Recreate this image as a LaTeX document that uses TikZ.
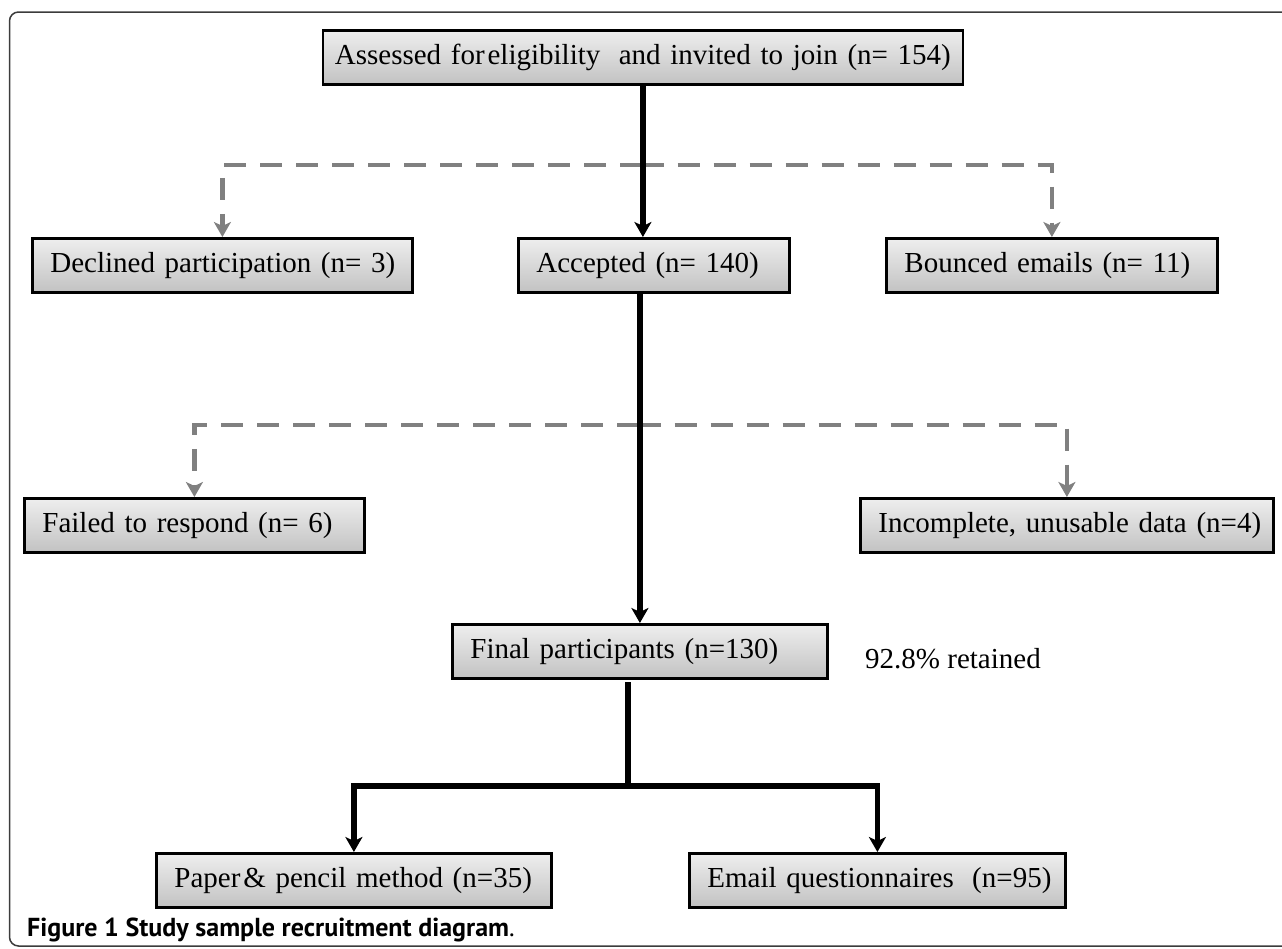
\documentclass[tikz,border=0pt]{standalone}
\usepackage{fontspec}
\setmainfont{Liberation Serif}
\newfontfamily\capfont{PT Sans}
\usetikzlibrary{arrows.meta}
\definecolor{boxtop}{RGB}{238,238,238}
\definecolor{boxbot}{RGB}{194,194,194}
\definecolor{dgray}{RGB}{128,128,128}
\definecolor{framec}{RGB}{60,60,60}
\begin{document}
\begin{tikzpicture}[x=1pt,y=-1pt,
  box/.style={draw=black, line width=2.8pt, top color=boxtop, bottom color=boxbot,
    minimum height=54pt, inner xsep=18pt, inner ysep=0pt, align=left,
    font=\fontsize{29}{34}\selectfont, anchor=north west},
  blk/.style={line width=5.5pt, draw=black},
  blkarr/.style={blk, -{Stealth[length=15pt,width=17pt,inset=4pt]}},
  gdash/.style={line width=4.8pt, draw=dgray, dash pattern=on 22pt off 14pt},
  garr/.style={gdash, -{Stealth[length=15pt,width=17pt,inset=4pt]}},
  plain/.style={font=\fontsize{29}{34}\selectfont, inner sep=0pt}]
\useasboundingbox (0,0) rectangle (1282,948);
% frame
\draw[line width=1.5pt, draw=framec, rounded corners=9pt] (1300,12) -- (9.5,12) -- (9.5,946) -- (1300,946);
% boxes
\node[box, inner xsep=12pt, text width=616pt] (top) at (321.5,29) {\mbox{Assessed for\hspace{0.1em}eligibility\hspace{0.3em} and invited to join (n= 154)}};
\node[box, text width=344pt] (decl) at (31,237) {\mbox{Declined participation (n= 3)}};
\node[box, text width=235pt] (acc) at (517,237) {\mbox{Accepted (n= 140)}};
\node[box, text width=295pt] (bounce) at (885,237) {\mbox{Bounced emails (n= 11)}};
\node[box, text width=304pt] (fail) at (23,497) {\mbox{Failed to respond (n= 6)}};
\node[box, text width=377pt] (incomp) at (859,497) {\mbox{Incomplete, unusable data (n=4)}};
\node[box, text width=339pt] (fin) at (451,623) {\mbox{Final participants (n=130)}};
\node[box, text width=359pt] (paper) at (155,852) {\mbox{Paper\hspace{0.1em}\& pencil method (n=35)}};
\node[box, text width=340pt] (email) at (688,852) {\mbox{Email questionnaires\hspace{0.3em} (n=95)}};
\node[plain, anchor=base west] (ret) at (865,668) {92.8\% retained};
% junctions
\coordinate (j1) at (641.5,165);
\coordinate (j2) at (638.5,425);
\coordinate (s3) at (628,682);
\coordinate (j3) at (628,786);
% dashed gray connectors
\draw[garr] (j1) -| (decl.north);
\draw[garr] (j1) -| (bounce.north);
\draw[garr] (j2) -| (fail.north);
\draw[garr] (j2) -| (incomp.north);
% black connectors
\draw[blkarr] (top.south) -- (top.south |- acc.north);
\draw[blkarr] (acc.south -| fin.north) -- (fin.north);
\draw[blk] (s3) -- (j3);
\draw[blkarr] (j3) -| (paper.north);
\draw[blkarr] (j3) -| (email.north);
% caption
\node[anchor=base west, inner sep=0pt, font=\capfont\fontsize{26}{30}\selectfont] (cap) at (27,936) {\textbf{Figure 1 Study sample recruitment diagram}.};
\end{tikzpicture}
\end{document}
